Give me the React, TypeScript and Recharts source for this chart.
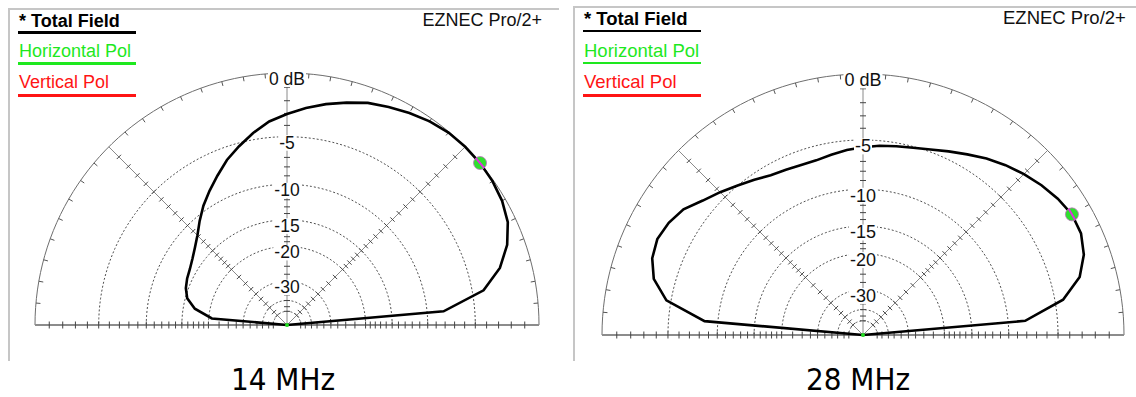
import React from "react";
import { ComposedChart, Line, Scatter, XAxis, YAxis } from "recharts";

// elevation angle of each computed point (deg), EZNEC 5 deg step
const ELEVATION = [
  0, 5, 10, 15, 20, 25, 30, 35, 40, 45, 50, 55, 60, 65, 70, 75, 80, 85, 90,
  95, 100, 105, 110, 115, 120, 125, 130, 135, 140, 145, 150, 155, 160, 165,
  170, 175, 180,
];
// total field, dB (-99 = null at the horizon)
const FIELD_14MHZ = [
  -99, -8.1, -4.0, -2.3, -1.25, -0.58, -0.25, -0.08, 0, 0, -0.05, -0.23, -0.5,
  -0.8, -1.1, -1.55, -2.0, -2.5, -3.05, -3.6, -4.4, -5.3, -6.2, -7.3, -8.35,
  -9.4, -10.6, -11.8, -12.7, -13.4, -13.9, -14.2, -14.6, -15.3, -17.0, -20.7,
  -99,
];
const FIELD_28MHZ = [
  -99, -8.1, -4.3, -2.6, -1.8, -1.4, -1.35, -1.6, -1.95, -2.35, -2.8, -3.3,
  -3.85, -4.35, -4.8, -5.1, -5.3, -5.45, -5.65, -5.85, -6.1, -6.3, -6.3, -6.15,
  -5.95, -5.5, -5.0, -4.4, -3.8, -3.0, -2.6, -2.4, -2.6, -3.2, -4.6, -8.5, -99,
];

const RING_LEVELS = [-5, -10, -15, -20, -30, -40, -50];
const RING_LABEL_LEVELS = [0, -5, -10, -15, -20, -30];
const RING_LABELS = ["0 dB", "-5", "-10", "-15", "-20", "-30"];
const AXIS_TICKS = [
  -1, -2, -3, -4, -5, -6, -7, -8, -9, -10, -11, -12, -13, -14, -15, -16, -17,
  -18, -19, -20, -22.5, -25, -27.5, -30, -33, -36.5, -40, -45, -50,
];
const RADIAL_ANGLES = [45, 90, 135];
const ARC_TICKS = [
  5, 10, 15, 20, 25, 30, 35, 40, 50, 55, 60, 65, 70, 75, 80, 85, 95, 100, 105,
  110, 115, 120, 125, 130, 140, 145, 150, 155, 160, 165, 170, 175,
];

const CURSOR_14 = [{ elev: 40, db: 0 }];
const CURSOR_28 = [{ elev: 30, db: -1.35 }];

const LEGEND = [
  { text: "* Total Field", color: "#000000", bold: true },
  { text: "Horizontal Pol", color: "#1ee81e", bold: false },
  { text: "Vertical Pol", color: "#ff1414", bold: false },
];

const X_DOMAIN = [-1.04, 1.04];
const Y_DOMAIN = [-0.04, 1.04];
const FONT = '"Liberation Sans", Arial, sans-serif';

// ARRL log scale: 0.89 per 2 dB
const arrl = (db: number) => (db <= -90 ? 0 : Math.pow(0.89, -db / 2));
const rad = (d: number) => (d * Math.PI) / 180;
const polar = (elev: number, db: number) => {
  const r = arrl(db);
  return { x: r * Math.cos(rad(elev)), y: r * Math.sin(rad(elev)) };
};

const halfCircle = (rho: number) => {
  const pts = [];
  for (let a = 0; a <= 180; a += 2) pts.push({ x: rho * Math.cos(rad(a)), y: rho * Math.sin(rad(a)) });
  return pts;
};

const CHAR_W: Record<string, number> = { "-": 0.333, " ": 0.278, d: 0.556, B: 0.667 };
const textW = (s: string, fs: number) =>
  s.split("").reduce((w, c) => w + (CHAR_W[c] ?? 0.556), 0) * fs;

function RingLabel(props: any) {
  const { cx, cy, payload } = props;
  const fs = payload.fs;
  const cap = fs * 0.716;
  const w = textW(payload.label, fs);
  return (
    <g>
      <rect x={cx - w / 2 - 1} y={cy - 1.5} width={w + 2} height={cap + 3} fill="#fff" />
      <text x={cx} y={cy + cap - 0.5} textAnchor="middle" fontSize={fs} fontFamily={FONT} fill="#111">
        {payload.label}
      </text>
    </g>
  );
}

function CursorMark(props: any) {
  const { cx, cy, payload } = props;
  const a = rad(payload.elev);
  const dx = Math.sin(a) * 6.5;
  const dy = Math.cos(a) * 6.5;
  return (
    <g>
      <circle cx={cx} cy={cy} r={6.5} fill="#2ee02e" stroke="#c070c0" strokeWidth={0.8} />
      <line x1={cx - dx} y1={cy - dy} x2={cx + dx} y2={cy + dy} stroke="#e030e0" strokeWidth={2} />
    </g>
  );
}

function CenterDot(props: any) {
  return <circle cx={props.cx} cy={props.cy} r={2} fill="#22dd22" />;
}

function PolarPanel({ left, width, cx, cy, R, field, cursor, fs }: any) {
  const H = 397;
  const margin = {
    left: cx + X_DOMAIN[0] * R,
    right: width - (cx + X_DOMAIN[1] * R),
    top: cy - Y_DOMAIN[1] * R,
    bottom: H - (cy - Y_DOMAIN[0] * R),
  };

  const pattern = ELEVATION.map((e, i) => polar(e, field[i]));

  const rings: any[] = [];
  RING_LEVELS.forEach((db) => {
    rings.push(...halfCircle(arrl(db)), { x: 0, y: null });
  });

  const radials: any[] = [];
  RADIAL_ANGLES.forEach((a) => {
    radials.push({ x: 0, y: 0 }, polar(a, 0), { x: 0, y: null });
  });
  const baseline = [polar(180, 0), polar(0, 0)];

  const ticks: any[] = [];
  const tickAngles = [0, 45, 90, 135, 180];
  tickAngles.forEach((a) => {
    const h = (a === 0 || a === 180 ? 3.5 : 3) / R;
    const nx = -Math.sin(rad(a));
    const ny = Math.cos(rad(a));
    AXIS_TICKS.forEach((db) => {
      const p = polar(a, db);
      ticks.push({ x: p.x - nx * h, y: p.y - ny * h }, { x: p.x + nx * h, y: p.y + ny * h }, { x: 0, y: null });
    });
  });
  const arcTicks: any[] = [];
  ARC_TICKS.forEach((a) => {
    const inner = 1 - 4.5 / R;
    arcTicks.push(
      { x: Math.cos(rad(a)), y: Math.sin(rad(a)) },
      { x: inner * Math.cos(rad(a)), y: inner * Math.sin(rad(a)) },
      { x: 0, y: null },
    );
  });

  const labels = RING_LABEL_LEVELS.map((db, i) => ({ x: 0, y: arrl(db), label: RING_LABELS[i], fs }));
  const cursorPts = cursor.map((c: any) => ({ ...polar(c.elev, c.db), elev: c.elev }));

  return (
    <div style={{ position: "absolute", left, top: 0 }}>
      <ComposedChart width={width} height={H} margin={margin}>
        <XAxis type="number" dataKey="x" domain={X_DOMAIN} allowDataOverflow hide />
        <YAxis type="number" dataKey="y" domain={Y_DOMAIN} allowDataOverflow hide />
        <Line data={rings} dataKey="y" stroke="#505050" strokeWidth={1} strokeDasharray="2 2" dot={false} isAnimationActive={false} />
        <Line data={halfCircle(1)} dataKey="y" stroke="#6e6e6e" strokeWidth={1} dot={false} isAnimationActive={false} />
        <Line data={radials} dataKey="y" stroke="#8a8a8a" strokeWidth={1} dot={false} isAnimationActive={false} />
        <Line data={baseline} dataKey="y" stroke="#8c8c8c" strokeWidth={2} dot={false} isAnimationActive={false} />
        <Line data={ticks} dataKey="y" stroke="#444" strokeWidth={1} dot={false} isAnimationActive={false} />
        <Line data={arcTicks} dataKey="y" stroke="#555" strokeWidth={1} dot={false} isAnimationActive={false} />
        <Scatter data={labels} shape={<RingLabel />} isAnimationActive={false} />
        <Line data={pattern} dataKey="y" stroke="#000" strokeWidth={2.6} dot={false} isAnimationActive={false} />
        <Scatter data={[{ x: 0, y: 0 }]} shape={<CenterDot />} isAnimationActive={false} />
        <Scatter data={cursorPts} shape={<CursorMark />} isAnimationActive={false} />
      </ComposedChart>
    </div>
  );
}

function PanelFrame({ x, y, width, height, legendX, legendTops, lineTops, brandX, brandTop, fs }: any) {
  return (
    <>
      <div style={{ position: "absolute", left: x, top: y, width, height: 2, background: "#c6c6c6" }} />
      <div style={{ position: "absolute", left: x, top: y, width: 2, height, background: "#c6c6c6" }} />
      {LEGEND.map((l, i) => (
        <React.Fragment key={l.text}>
          <div
            style={{
              position: "absolute",
              left: legendX,
              top: legendTops[i],
              fontFamily: FONT,
              fontSize: fs,
              lineHeight: `${fs}px`,
              fontWeight: l.bold ? 700 : 400,
              color: l.color,
              whiteSpace: "nowrap",
            }}
          >
            {l.text}
          </div>
          <div style={{ position: "absolute", left: legendX - 1, top: lineTops[i], width: 118, height: 2.5, background: l.color }} />
        </React.Fragment>
      ))}
      <div
        style={{
          position: "absolute",
          left: brandX,
          top: brandTop,
          fontFamily: FONT,
          fontSize: fs,
          lineHeight: `${fs}px`,
          color: "#111",
          whiteSpace: "nowrap",
        }}
      >
        EZNEC Pro/2+
      </div>
    </>
  );
}

const capStyle: React.CSSProperties = {
  position: "absolute",
  top: 366,
  fontFamily: '"DejaVu Sans Condensed", "Liberation Sans Narrow", "DejaVu Sans", sans-serif',
  fontStretch: "condensed",
  fontSize: 31,
  lineHeight: "26px",
  color: "#000",
  whiteSpace: "nowrap",
};

export default function App() {
  return (
    <div style={{ position: "absolute", left: 0, top: 0, width: 1136, height: 397, background: "#fff" }}>
      <PanelFrame x={8} y={7.5} width={551} height={353} legendX={19} legendTops={[11.5, 42, 73]} lineTops={[31, 62, 94]} brandX={422.5} brandTop={10.5} fs={18} />
      <PanelFrame x={573} y={5.5} width={563} height={355} legendX={584} legendTops={[9.8, 41.5, 73]} lineTops={[29.5, 61.5, 94]} brandX={1003} brandTop={8.8} fs={18.5} />
      <PolarPanel left={0} width={570} cx={287} cy={325} R={252} field={FIELD_14MHZ} cursor={CURSOR_14} fs={17.5} />
      <PolarPanel left={570} width={566} cx={293} cy={335} R={261} field={FIELD_28MHZ} cursor={CURSOR_28} fs={18} />
      <div style={{ ...capStyle, left: 231 }}>14 MHz</div>
      <div style={{ ...capStyle, left: 806 }}>28 MHz</div>
    </div>
  );
}
